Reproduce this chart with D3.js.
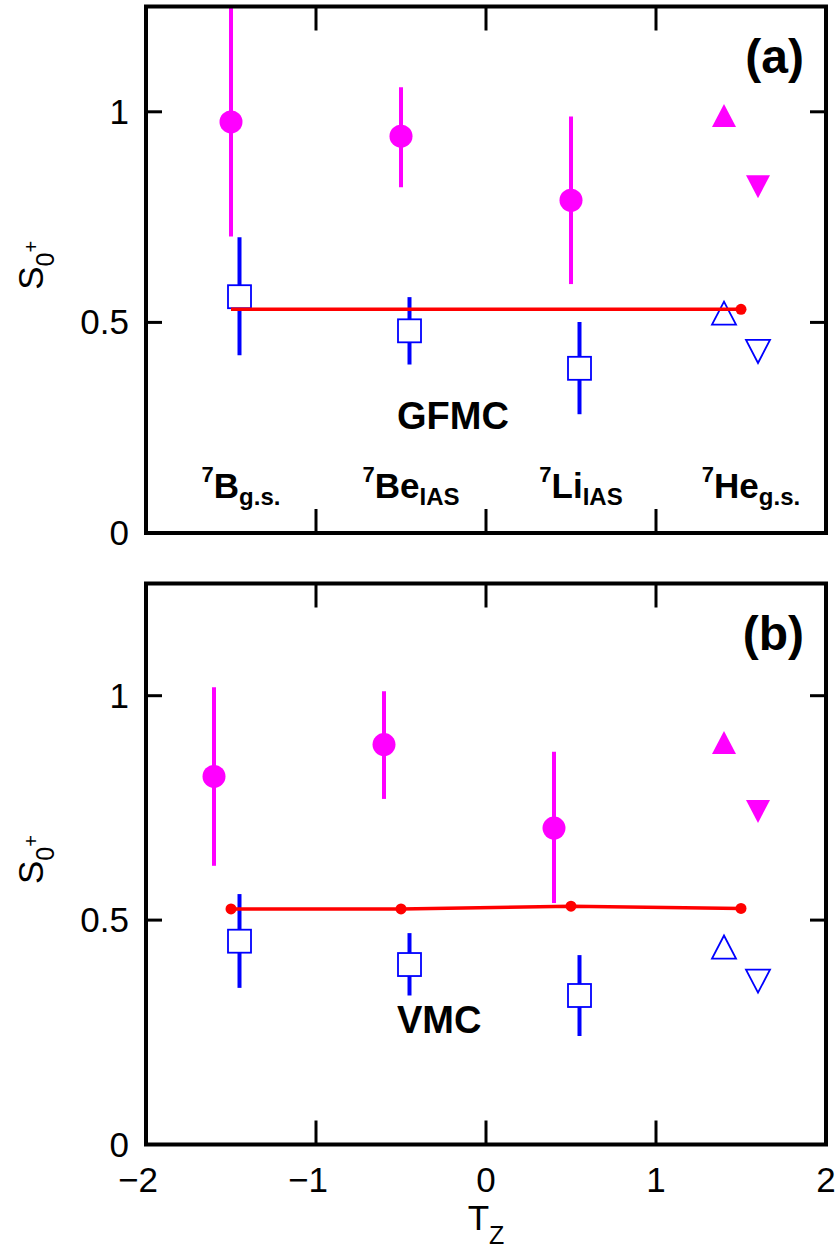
<!DOCTYPE html>
<html><head><meta charset="utf-8">
<script src="https://cdn.jsdelivr.net/npm/d3@7"></script>
<style>body{margin:0;background:#fff}svg{display:block}text{font-family:"Liberation Sans",Arial,Helvetica,sans-serif}</style>
</head><body>
<svg id="c" width="838" height="1254"></svg>
<script>
// ---------- data ----------
const xTicks = [-2, -1, 0, 1, 2];
const yTicks = [0, 0.5, 1];
const nuclei = [
  {sup: "7", base: "B", sub: "g.s.", t: -1.5},
  {sup: "7", base: "Be", sub: "IAS", t: -0.5},
  {sup: "7", base: "Li", sub: "IAS", t: 0.5},
  {sup: "7", base: "He", sub: "g.s.", t: 1.5}
];
// panel (a) GFMC
const aCircT = [-1.5, -0.5, 0.5];
const aCirc = [0.976, 0.942, 0.790];
const aCircLo = [0.704, 0.821, 0.591];
const aCircHi = [1.27, 1.058, 0.989];
const aSqT = [-1.45, -0.45, 0.55];
const aSq = [0.561, 0.480, 0.391];
const aSqLo = [0.422, 0.400, 0.282];
const aSqHi = [0.702, 0.560, 0.501];
const aTriUpFilled = [1.4, 0.991];
const aTriDnFilled = [1.6, 0.822];
const aTriUpOpen = [1.4, 0.522];
const aTriDnOpen = [1.6, 0.431];
const aRedT = [-1.5, -0.5, 0.5, 1.5];
const aRed = [0.531, 0.531, 0.531, 0.531];
const aRedDots = [false, false, false, true];
// panel (b) VMC
const bCircT = [-1.6, -0.6, 0.4];
const bCirc = [0.820, 0.891, 0.705];
const bCircLo = [0.621, 0.770, 0.538];
const bCircHi = [1.019, 1.010, 0.875];
const bSqT = [-1.45, -0.45, 0.55];
const bSq = [0.453, 0.401, 0.332];
const bSqLo = [0.349, 0.332, 0.242];
const bSqHi = [0.558, 0.471, 0.422];
const bTriUpFilled = [1.4, 0.896];
const bTriDnFilled = [1.6, 0.742];
const bTriUpOpen = [1.4, 0.440];
const bTriDnOpen = [1.6, 0.364];
const bRedT = [-1.5, -0.5, 0.5, 1.5];
const bRed = [0.525, 0.525, 0.531, 0.526];
const bRedDots = [true, true, true, true];

const panels = [
  {key: "a", label: "(a)", method: "GFMC", top: 6.5, bottom: 533,
   circT: aCircT, circ: aCirc, circLo: aCircLo, circHi: aCircHi,
   sqT: aSqT, sq: aSq, sqLo: aSqLo, sqHi: aSqHi,
   tuf: aTriUpFilled, tdf: aTriDnFilled, tuo: aTriUpOpen, tdo: aTriDnOpen,
   redT: aRedT, red: aRed, redDots: aRedDots, nuclei: true, xLabels: false},
  {key: "b", label: "(b)", method: "VMC", top: 583.5, bottom: 1144.5,
   circT: bCircT, circ: bCirc, circLo: bCircLo, circHi: bCircHi,
   sqT: bSqT, sq: bSq, sqLo: bSqLo, sqHi: bSqHi,
   tuf: bTriUpFilled, tdf: bTriDnFilled, tuo: bTriUpOpen, tdo: bTriDnOpen,
   redT: bRedT, red: bRed, redDots: bRedDots, nuclei: false, xLabels: true}
];

const MAG = "#ff00ff", BLUE = "#0000ff", RED = "#ff0000";
const svg = d3.select("#c");
const x = d3.scaleLinear().domain([-2, 2]).range([146, 826]);

panels.forEach(p => {
  const y = d3.scaleLinear().domain([0, 1.25]).range([p.bottom, p.top]);
  const g = svg.append("g");
  const clipId = "clip" + p.key;
  svg.append("clipPath").attr("id", clipId).append("rect")
    .attr("x", x(-2)).attr("y", y(1.25)).attr("width", x(2) - x(-2)).attr("height", y(0) - y(1.25));
  const plot = g.append("g").attr("clip-path", `url(#${clipId})`);

  // ticks (inward, all four sides)
  [-1, 0, 1].forEach(t => {
    g.append("line").attr("x1", x(t)).attr("x2", x(t)).attr("y1", y(0)).attr("y2", y(0) - 24)
      .attr("stroke", "#000").attr("stroke-width", 3);
    g.append("line").attr("x1", x(t)).attr("x2", x(t)).attr("y1", y(1.25)).attr("y2", y(1.25) + 24)
      .attr("stroke", "#000").attr("stroke-width", 3);
  });
  yTicks.forEach(v => {
    g.append("line").attr("x1", x(-2)).attr("x2", x(-2) + 16).attr("y1", y(v)).attr("y2", y(v))
      .attr("stroke", "#000").attr("stroke-width", 3);
    g.append("line").attr("x1", x(2)).attr("x2", x(2) - 16).attr("y1", y(v)).attr("y2", y(v))
      .attr("stroke", "#000").attr("stroke-width", 3);
    g.append("text").attr("x", 129).attr("y", y(v) + 12).attr("text-anchor", "end")
      .attr("font-size", 35).text(v);
  });
  if (p.xLabels) {
    xTicks.forEach(t => {
      g.append("text").attr("x", x(t) - (t < 0 ? 8 : 0)).attr("y", 1192).attr("text-anchor", "middle")
        .attr("font-size", 35).text(t < 0 ? "\u2212" + Math.abs(t) : t);
    });
  }

  // error bars
  p.circT.forEach((t, i) => {
    plot.append("line").attr("x1", x(t)).attr("x2", x(t)).attr("y1", y(p.circLo[i])).attr("y2", y(p.circHi[i]))
      .attr("stroke", MAG).attr("stroke-width", 4);
  });
  p.sqT.forEach((t, i) => {
    plot.append("line").attr("x1", x(t)).attr("x2", x(t)).attr("y1", y(p.sqLo[i])).attr("y2", y(p.sqHi[i]))
      .attr("stroke", BLUE).attr("stroke-width", 4);
  });
  // circles
  p.circT.forEach((t, i) => {
    plot.append("circle").attr("cx", x(t)).attr("cy", y(p.circ[i])).attr("r", 11.5).attr("fill", MAG);
  });
  // open squares
  p.sqT.forEach((t, i) => {
    plot.append("rect").attr("x", x(t) - 11.5).attr("y", y(p.sq[i]) - 11.5).attr("width", 23).attr("height", 23)
      .attr("fill", "#fff").attr("stroke", BLUE).attr("stroke-width", 1.8);
  });
  // triangles
  const tri = (pt, up, filled) => {
    const cx = x(pt[0]), cy = y(pt[1]), hw = 12, hh = 11.5;
    const pts = up ? [[cx - hw, cy + hh], [cx + hw, cy + hh], [cx, cy - hh]]
                   : [[cx - hw, cy - hh], [cx + hw, cy - hh], [cx, cy + hh]];
    plot.append("polygon").attr("points", pts.map(d => d.join(",")).join(" "))
      .attr("fill", filled ? MAG : "none").attr("stroke", filled ? "none" : BLUE).attr("stroke-width", 1.8);
  };
  tri(p.tuf, true, true);
  tri(p.tdf, false, true);
  tri(p.tuo, true, false);
  tri(p.tdo, false, false);

  // red line
  const line = d3.line().x((d, i) => x(p.redT[i])).y(d => y(d));
  plot.append("path").attr("d", line(p.red)).attr("fill", "none").attr("stroke", RED).attr("stroke-width", 3.5);
  p.red.forEach((v, i) => {
    if (p.redDots[i]) plot.append("circle").attr("cx", x(p.redT[i])).attr("cy", y(v)).attr("r", 5.5).attr("fill", RED);
  });

  // frame
  g.append("rect").attr("x", x(-2)).attr("y", y(1.25)).attr("width", x(2) - x(-2)).attr("height", y(0) - y(1.25))
    .attr("fill", "none").attr("stroke", "#000").attr("stroke-width", 4);

  // method label
  g.append("text").attr("x", x(-0.5) - 4).attr("y", y(0.25) + 1).attr("font-size", 38).attr("font-weight", "bold").text(p.method);
  // panel label
  g.append("text").attr("x", 804).attr("y", y(1.25) + 66).attr("text-anchor", "end")
    .attr("font-size", 48).attr("font-weight", "bold").text(p.label);

  // nucleus labels
  if (p.nuclei) {
    nuclei.forEach(n => {
      const t = g.append("text").attr("x", x(n.t) + 10).attr("y", 498).attr("text-anchor", "middle")
        .attr("font-weight", "bold");
      t.append("tspan").attr("font-size", 22).attr("dy", -16).text(n.sup);
      t.append("tspan").attr("font-size", 35).attr("dy", 16).text(n.base);
      t.append("tspan").attr("font-size", 24).attr("dy", 7).text(n.sub);
    });
  }

  // y-axis label S_{0^+}
  const cy = (p.top + p.bottom) / 2 + 20;
  const yl = g.append("text").attr("transform", `translate(43,${cy}) rotate(-90)`).attr("font-size", 35);
  yl.append("tspan").text("S");
  yl.append("tspan").attr("font-size", 25).attr("dy", 11).text("0");
  yl.append("tspan").attr("font-size", 20).attr("dy", -16).text("+");
});

// x-axis label T_Z
const xl = svg.append("text").attr("x", x(0)).attr("y", 1230).attr("text-anchor", "middle").attr("font-size", 35);
xl.append("tspan").text("T");
xl.append("tspan").attr("font-size", 25).attr("dy", 14).text("Z");
</script>
</body></html>
